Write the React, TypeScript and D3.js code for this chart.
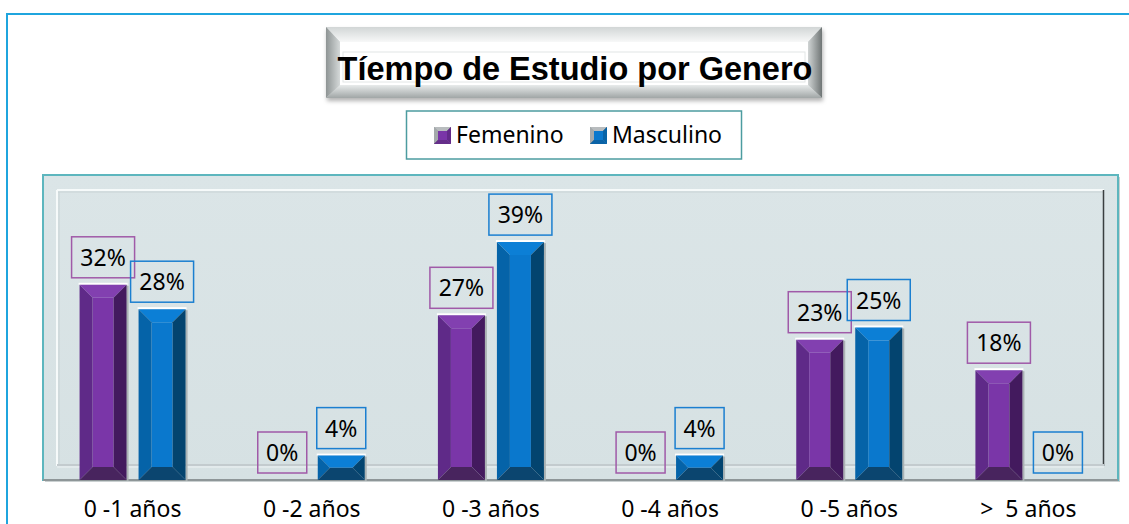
import React from "react";
import * as d3 from "d3";

const categories = ["0 -1 años", "0 -2 años", "0 -3 años", "0 -4 años", "0 -5 años", ">  5 años"];
const femenino = [0.32, 0, 0.27, 0, 0.23, 0.18];
const masculino = [0.28, 0.04, 0.39, 0.04, 0.25, 0];
const seriesNames = ["Femenino", "Masculino"];
const title = "Tíempo de Estudio por Genero";

const W = 1129;
const H = 524;

const palettes = [
  { face: "#7a36a8", top: "#8240b0", left: "#5f2a88", right: "#431a5e", bottom: "#48245e", label: "#a05aa8" },
  { face: "#0a78cd", top: "#0c7fd6", left: "#0563a8", right: "#03446f", bottom: "#0b456f", label: "#1b7fd0" },
];

const LBL_FONT = "'Noto Sans', sans-serif";

function Bevel({ x0, x1, y0, y1, b, p }: any) {
  const pts = (a: number[][]) => a.map((q) => q.join(",")).join(" ");
  return (
    <g>
      <rect x={x1} y={y0 + 1} width={2} height={y1 - y0} fill="#aab2b4" />
      <rect x={x0 - 1} y={y0 - 2} width={x1 - x0 + 2} height={2} fill="#ffffff" />
      <polygon points={pts([[x0 + b, y0 + b], [x1 - b, y0 + b], [x1 - b, y1 - b], [x0 + b, y1 - b]])} fill={p.face} />
      <polygon points={pts([[x0, y0], [x1, y0], [x1 - b, y0 + b], [x0 + b, y0 + b]])} fill={p.top} />
      <polygon points={pts([[x0, y0], [x0 + b, y0 + b], [x0 + b, y1 - b], [x0, y1]])} fill={p.left} />
      <polygon points={pts([[x1, y0], [x1, y1], [x1 - b, y1 - b], [x1 - b, y0 + b]])} fill={p.right} />
      <polygon points={pts([[x0, y1], [x1, y1], [x1 - b, y1 - b], [x0 + b, y1 - b]])} fill={p.bottom} />
    </g>
  );
}

export default function App() {
  const plotL = 43, plotR = 1118, plotT = 175, plotB = 480;
  const x = d3.scaleBand<string>().domain(categories).range([plotL, plotR]).padding(0);
  const y = d3.scaleLinear().domain([0, 0.4]).range([plotB, plotB - 244]);
  const barW = 47;
  const offsets = [-53, 6];
  const series = [femenino, masculino];
  const fmt = d3.format(".0%");

  const bars: any[] = [];
  const labels: any[] = [];
  categories.forEach((c, i) => {
    const cx = (x(c) as number) + x.bandwidth() / 2;
    series.forEach((s, k) => {
      const v = s[i];
      const x0 = cx + offsets[k];
      const x1 = x0 + barW;
      const y0 = y(v);
      const y1 = y(0);
      const h = y1 - y0;
      const p = palettes[k];
      if (h > 0) {
        const b = Math.min(13, h / 2, barW / 2);
        bars.push(<Bevel key={`b${i}${k}`} x0={x0} x1={x1} y0={y0} y1={y1} b={b} p={p} />);
      }
      const txt = fmt(v);
      const tw = txt.length === 2 ? 49 : 63;
      const bx = x0 + barW / 2;
      const bBottom = y0 - 7;
      labels.push(
        <g key={`l${i}${k}`}>
          <rect x={bx - tw / 2} y={bBottom - 41} width={tw} height={41} fill="none" stroke={p.label} strokeWidth={1.5} />
          <text x={bx} y={bBottom - 12} textAnchor="middle" fontFamily={LBL_FONT} fontSize={23} fill="#000">{txt}</text>
        </g>
      );
    });
  });

  const legendX = [434, 590];
  const legendTextX = [456, 612];

  return (
    <svg width={W} height={H} style={{ position: "absolute", left: 0, top: 0 }} xmlns="http://www.w3.org/2000/svg">
      <defs>
        <linearGradient id="plotBg" x1="0" y1="0" x2="0" y2="1">
          <stop offset="0" stopColor="#dbe5e7" />
          <stop offset="1" stopColor="#d6e1e3" />
        </linearGradient>
        <linearGradient id="tLeft" x1="0" y1="0" x2="1" y2="0">
          <stop offset="0" stopColor="#8e9494" />
          <stop offset="1" stopColor="#d5d9d9" />
        </linearGradient>
        <linearGradient id="tRight" x1="0" y1="0" x2="1" y2="0">
          <stop offset="0" stopColor="#d0d4d4" />
          <stop offset="1" stopColor="#6f7575" />
        </linearGradient>
        <linearGradient id="tTop" x1="0" y1="0" x2="0" y2="1">
          <stop offset="0" stopColor="#d2d6d6" />
          <stop offset="1" stopColor="#f7f8f8" />
        </linearGradient>
        <linearGradient id="tBottom" x1="0" y1="0" x2="0" y2="1">
          <stop offset="0" stopColor="#e8ebeb" />
          <stop offset="1" stopColor="#a0a6a6" />
        </linearGradient>
        <filter id="shadow" x="-5%" y="-10%" width="110%" height="130%">
          <feDropShadow dx="1" dy="3" stdDeviation="2" floodColor="#000" floodOpacity="0.3" />
        </filter>
      </defs>
      <rect x={0} y={0} width={W} height={H} fill="#ffffff" />
      {/* outer frame */}
      <line x1={7} y1={14} x2={W} y2={14} stroke="#1fa5de" strokeWidth={2} />
      <line x1={7} y1={13} x2={7} y2={H} stroke="#1fa5de" strokeWidth={2} />

      {/* title box */}
      <g>
        <rect x={326} y={27} width={496} height={71} fill="#cfd4d4" filter="url(#shadow)" />
        <polygon points="326,27 822,27 808,42 340,42" fill="url(#tTop)" />
        <polygon points="326,27 340,42 340,85 326,98" fill="url(#tLeft)" />
        <polygon points="822,27 822,98 808,85 808,42" fill="url(#tRight)" />
        <polygon points="326,98 822,98 808,85 340,85" fill="url(#tBottom)" />
        <rect x={340} y={42} width={468} height={43} fill="#ffffff" />
        <rect x={343} y={52} width={462} height={30} fill="none" stroke="#e2e6e6" strokeWidth={1} />
        <text x={575} y={80} textAnchor="middle" fontFamily="'Liberation Sans', Arial, sans-serif" fontWeight="bold" fontSize={32.5} fill="#000">{title}</text>
      </g>

      {/* legend */}
      <rect x={406.5} y={111} width={335} height={48} fill="#ffffff" stroke="#4c9ca0" strokeWidth={1.5} />
      {seriesNames.map((n, k) => {
        const p = palettes[k];
        const sx = legendX[k], sy = 127, s = 17, b = 4;
        const pts = (a: number[][]) => a.map((q) => q.join(",")).join(" ");
        return (
          <g key={n}>
            <rect x={sx} y={sy} width={s} height={s} fill="#9aa0a2" />
            <polygon points={pts([[sx + b, sy + b], [sx + s - b, sy + b], [sx + s - b, sy + s - b], [sx + b, sy + s - b]])} fill={p.face} />
            <polygon points={pts([[sx, sy], [sx + s, sy], [sx + s - b, sy + b], [sx + b, sy + b]])} fill="#b8bcbe" />
            <polygon points={pts([[sx, sy], [sx + b, sy + b], [sx + b, sy + s - b], [sx, sy + s]])} fill="#a4a9ab" />
            <polygon points={pts([[sx + s, sy], [sx + s, sy + s], [sx + s - b, sy + s - b], [sx + s - b, sy + b]])} fill={p.right} />
            <polygon points={pts([[sx, sy + s], [sx + s, sy + s], [sx + s - b, sy + s - b], [sx + b, sy + s - b]])} fill={p.bottom} />
            <polygon points={pts([[sx, sy + s], [sx + s, sy], [sx + s, sy + s]])} fill={p.face} opacity={0.6} />
            <text x={legendTextX[k]} y={143} fontFamily={LBL_FONT} fontSize={23} fill="#000">{n}</text>
          </g>
        );
      })}

      {/* plot area */}
      <rect x={plotL + 2} y={plotT + 2} width={plotR - plotL} height={plotB - plotT} fill="#b4bcbe" opacity={0.7} />
      <rect x={plotL} y={plotT} width={plotR - plotL} height={plotB - plotT} fill="url(#plotBg)" stroke="#5db6be" strokeWidth={2} />
      <line x1={plotL} y1={plotB} x2={plotR} y2={plotB} stroke="#8e9698" strokeWidth={2} />
      {/* inner frame */}
      <line x1={57} y1={190} x2={1104} y2={190} stroke="#f6fafa" strokeWidth={2} />
      <line x1={57} y1={192} x2={1104} y2={192} stroke="#c9d3d5" strokeWidth={1} />
      <line x1={57} y1={190} x2={57} y2={466} stroke="#f6fafa" strokeWidth={2} />
      <line x1={59} y1={192} x2={59} y2={464} stroke="#c9d3d5" strokeWidth={1} />
      <line x1={1103.5} y1={190} x2={1103.5} y2={466} stroke="#3a3f40" strokeWidth={1.5} />
      <line x1={57} y1={465} x2={1104} y2={465} stroke="#c3cbce" strokeWidth={2} />
      <line x1={57} y1={467} x2={1104} y2={467} stroke="#eef3f4" strokeWidth={1} />

      {bars}
      {labels}

      {/* category labels */}
      {categories.map((c) => (
        <text key={c} x={(x(c) as number) + x.bandwidth() / 2} y={517} textAnchor="middle" fontFamily={LBL_FONT} fontSize={23} fill="#000" style={{ whiteSpace: "pre" }}>{c}</text>
      ))}
    </svg>
  );
}
